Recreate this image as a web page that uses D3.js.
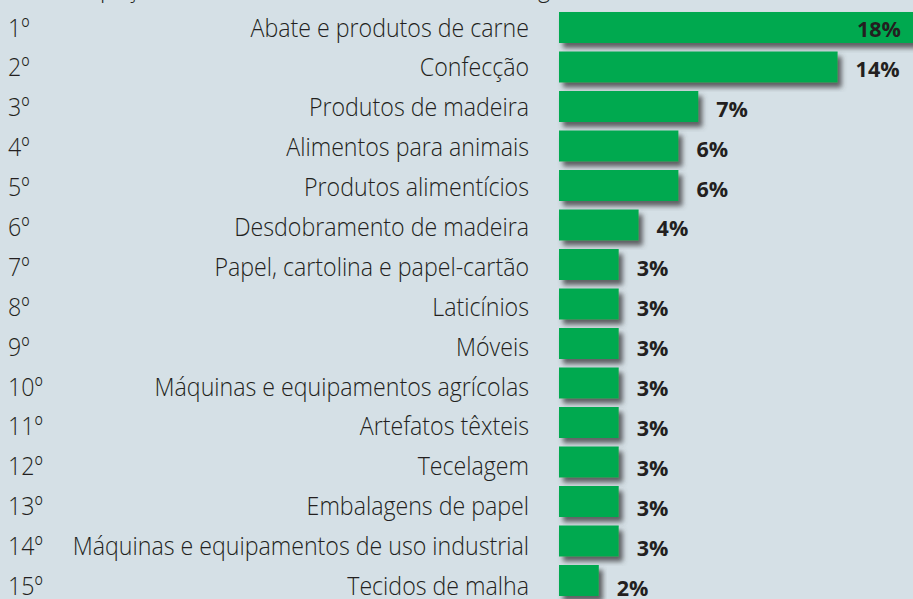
<!DOCTYPE html>
<html>
<head>
<meta charset="utf-8">
<script src="https://cdn.jsdelivr.net/npm/d3@7/dist/d3.min.js"></script>
<style>
    body { margin: 0; background: #d5e0e6; }
    svg { display: block; }
</style>
</head>
<body>
<svg id="chart" width="913" height="599"></svg>
<script>
// chart data
const title = "Participação das 15 atividades na indústria da região";
const ranks = ["1º", "2º", "3º", "4º", "5º", "6º", "7º", "8º", "9º", "10º", "11º", "12º", "13º", "14º", "15º"];
const categories = [
    "Abate e produtos de carne",
    "Confecção",
    "Produtos de madeira",
    "Alimentos para animais",
    "Produtos alimentícios",
    "Desdobramento de madeira",
    "Papel, cartolina e papel-cartão",
    "Laticínios",
    "Móveis",
    "Máquinas e equipamentos agrícolas",
    "Artefatos têxteis",
    "Tecelagem",
    "Embalagens de papel",
    "Máquinas e equipamentos de uso industrial",
    "Tecidos de malha"
];
const values = [18, 14, 7, 6, 6, 4, 3, 3, 3, 3, 3, 3, 3, 3, 2];

const width = 913,
    height = 599;

const svg = d3.select("#chart");

// background
svg.append("rect")
    .attr("width", width)
    .attr("height", height)
    .attr("fill", "#d5e0e6");

// drop shadow filter for bars
const filter = svg.append("defs")
    .append("filter")
    .attr("id", "shadow")
    .attr("x", "-10%")
    .attr("y", "-30%")
    .attr("width", "130%")
    .attr("height", "160%");
filter.append("feDropShadow")
    .attr("dx", 4)
    .attr("dy", 5)
    .attr("stdDeviation", 2.5)
    .attr("flood-color", "#4a4a4c")
    .attr("flood-opacity", 0.85);

// scales
const xScale = d3.scaleLinear().domain([0, 20]).range([559, 559 + 19.9 * 20]);
const yBand = d3.scaleBand()
    .domain(categories)
    .range([7.75, 600.25])
    .paddingInner(0.215)
    .paddingOuter(0.1075);
const yText = d3.scalePoint().domain(categories).range([36.5, 595]);

const textFont = "'Open Sans', sans-serif";
// the light labels are narrower than plain Open Sans
const squeeze = 0.875;
const place = (x, y) => "translate(" + x + "," + y + ") scale(" + squeeze + ",1)";

// title (cut off at the top of the picture)
svg.append("text")
    .attr("transform", place(36, -3))
    .style("font-family", textFont)
    .style("font-weight", 300)
    .style("font-size", "26.5px")
    .attr("fill", "#231f20")
    .text(title);

// bars
svg.append("g")
    .selectAll("rect")
    .data(values)
    .enter()
    .append("rect")
    .attr("x", xScale(0))
    .attr("y", (d, i) => yBand(categories[i]))
    .attr("width", (d) => xScale(d) - xScale(0))
    .attr("height", yBand.bandwidth())
    .attr("fill", "#00a94f")
    .attr("filter", "url(#shadow)");

// rank labels
svg.append("g")
    .selectAll("text")
    .data(ranks)
    .enter()
    .append("text")
    .attr("transform", (d, i) => place(8, yText(categories[i])))
    .style("font-family", textFont)
    .style("font-weight", 300)
    .style("font-size", "26.5px")
    .attr("fill", "#231f20")
    .text((d) => d);

// category labels
svg.append("g")
    .selectAll("text")
    .data(categories)
    .enter()
    .append("text")
    .attr("transform", (d) => place(529, yText(d)))
    .attr("text-anchor", "end")
    .style("font-family", textFont)
    .style("font-weight", 300)
    .style("font-size", "26.5px")
    .attr("fill", "#231f20")
    .text((d) => d);

// value labels, inside the bar when it runs off the picture
svg.append("g")
    .selectAll("text")
    .data(values)
    .enter()
    .append("text")
    .attr("x", (d) => (xScale(d) + 60 > width ? width - 12 : xScale(d) + 18))
    .attr("y", (d, i) => yText(categories[i]) + 0.5)
    .attr("text-anchor", (d) => (xScale(d) + 60 > width ? "end" : "start"))
    .style("font-family", textFont)
    .style("font-weight", 700)
    .style("font-size", "21.5px")
    .attr("fill", "#231f20")
    .text((d) => d + "%");
</script>
</body>
</html>
